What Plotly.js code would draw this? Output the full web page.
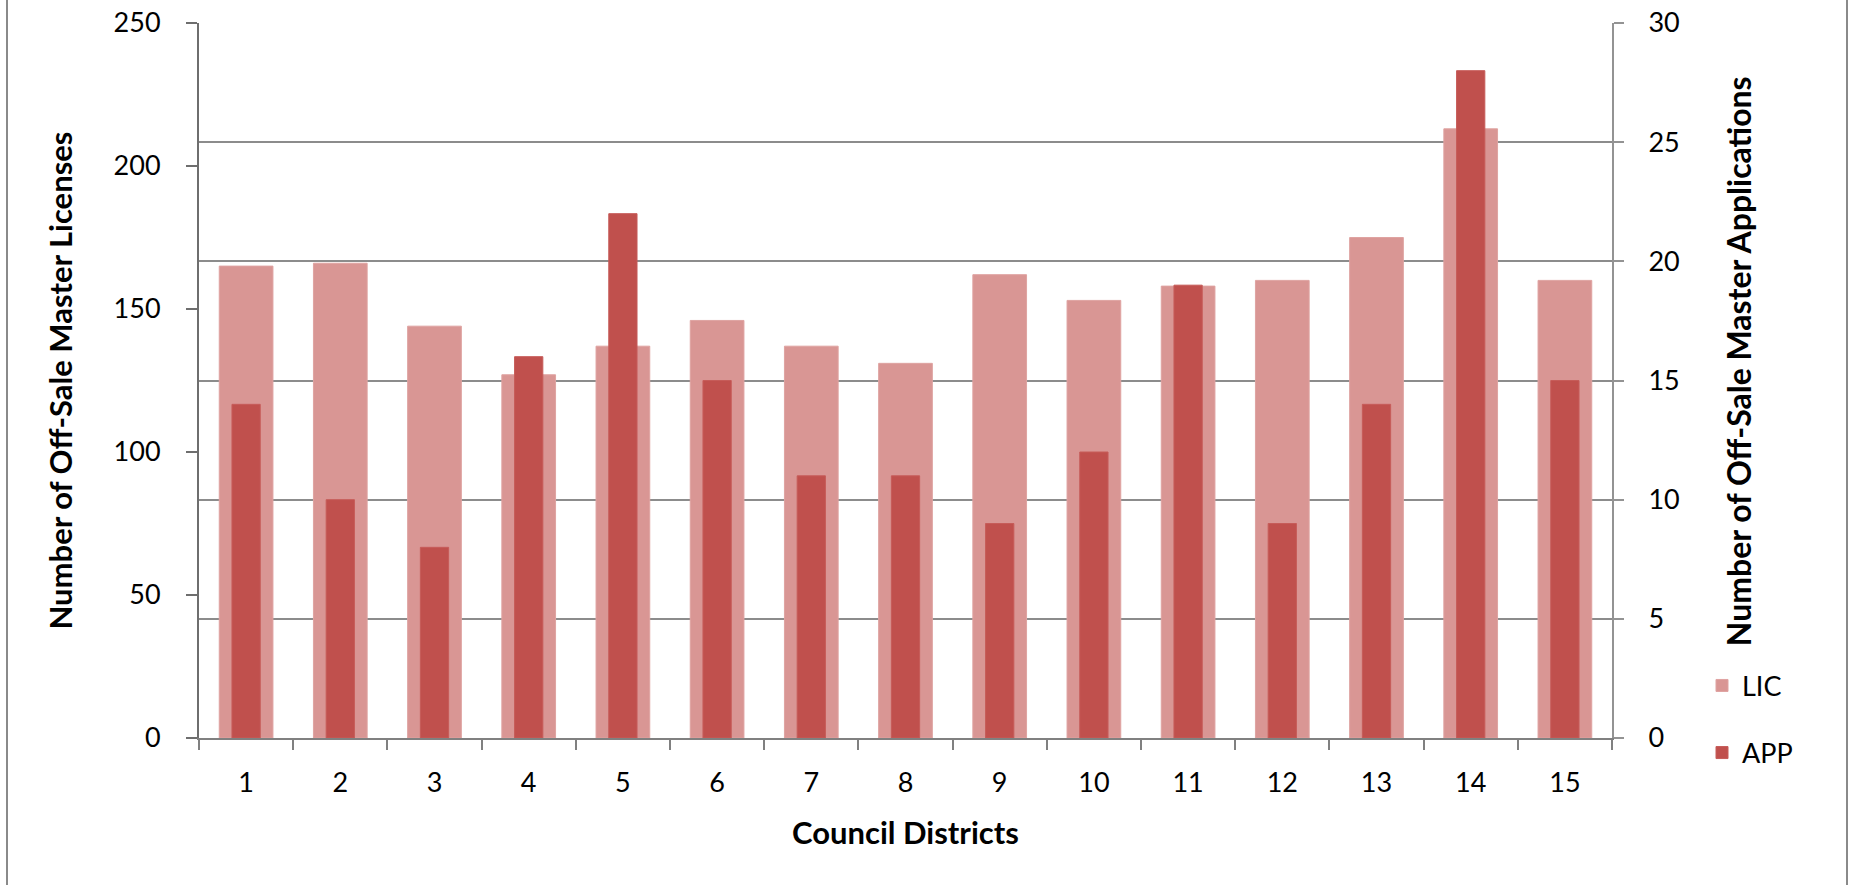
<!DOCTYPE html>
<html>
<head>
<meta charset="utf-8">
<script src="https://cdn.plot.ly/plotly-3.0.1.min.js"></script>
<style>
  html, body { margin: 0; padding: 0; background: #ffffff; }
  #chart { width: 1855px; height: 885px; }
</style>
</head>
<body>
<div id="chart"></div>
<script>
// Data
const districts = ["1","2","3","4","5","6","7","8","9","10","11","12","13","14","15"];
const licValues = [165, 166, 144, 127, 137, 146, 137, 131, 162, 153, 158, 160, 175, 213, 160];
const appValues = [14, 10, 8, 16, 22, 15, 11, 11, 9, 12, 19, 9, 14, 28, 15];
const licTicks = [0, 50, 100, 150, 200, 250];
const appTicks = [0, 5, 10, 15, 20, 25, 30];

const FONT = "Lato, 'Open Sans', sans-serif";

const traces = [
  {
    type: "bar",
    name: "LIC",
    x: districts,
    y: licValues,
    yaxis: "y",
    width: 0.57,
    legendgroup: "lic",
    marker: { color: "#D99694", line: { color: "#DFA3A1", width: 1 } },
    hoverinfo: "x+y+name"
  },
  {
    type: "bar",
    name: "APP",
    x: districts,
    y: appValues,
    yaxis: "y2",
    width: 0.3,
    legendgroup: "app",
    marker: { color: "#C0504D", line: { color: "#C65C59", width: 1 } },
    hoverinfo: "x+y+name"
  }
];

const layout = {
  width: 1855,
  height: 885,
  margin: { l: 199, r: 243, t: 23, b: 147 },
  paper_bgcolor: "#ffffff",
  plot_bgcolor: "#ffffff",
  font: { family: FONT, size: 27, color: "#000000" },
  barmode: "overlay",
  showlegend: true,
  legend: {
    x: 1.0637, xanchor: "left",
    y: 0.026, yanchor: "middle",
    traceorder: "grouped",
    tracegroupgap: 29,
    font: { family: FONT, size: 27, color: "#000000" },
    bgcolor: "rgba(0,0,0,0)"
  },
  xaxis: {
    type: "category",
    range: [-0.5, 14.5],
    tickson: "boundaries",
    ticks: "outside",
    ticklen: 10,
    tickwidth: 2,
    tickcolor: "#808080",
    showline: true,
    linecolor: "#808080",
    linewidth: 2,
    showgrid: false,
    zeroline: false,
    ticklabelstandoff: 20,
    tickfont: { family: FONT, size: 27, color: "#000000" },
    fixedrange: true
  },
  yaxis: {
    range: [0, 250],
    tickvals: licTicks,
    ticks: "outside",
    ticklen: 11,
    tickwidth: 2,
    tickcolor: "#6e6e6e",
    showline: true,
    linecolor: "#6e6e6e",
    linewidth: 2,
    showgrid: false,
    zeroline: false,
    ticklabelstandoff: 20,
    tickfont: { family: FONT, size: 27, color: "#000000" },
    fixedrange: true
  },
  yaxis2: {
    range: [0, 30],
    tickvals: appTicks,
    overlaying: "y",
    side: "right",
    ticks: "outside",
    ticklen: 10,
    tickwidth: 2,
    tickcolor: "#939393",
    showline: true,
    linecolor: "#939393",
    linewidth: 2,
    showgrid: true,
    gridcolor: "#8c8c8c",
    gridwidth: 2,
    zeroline: false,
    ticklabelstandoff: 19,
    tickfont: { family: FONT, size: 27, color: "#000000" },
    fixedrange: true
  },
  annotations: [
    {
      text: "<b>Council Districts</b>",
      xref: "paper", yref: "paper",
      x: 0.5, y: -0.1315, xanchor: "center", yanchor: "middle",
      showarrow: false,
      font: { family: FONT, size: 31, color: "#000000" }
    },
    {
      text: "<b>Number of Off-Sale Master Licenses</b>",
      xref: "paper", yref: "paper",
      x: (59 - 199) / 1413, y: 0.5, xanchor: "center", yanchor: "middle",
      textangle: -90,
      showarrow: false,
      font: { family: FONT, size: 31, color: "#000000" }
    },
    {
      text: "<b>Number of Off-Sale Master Applications</b>",
      xref: "paper", yref: "paper",
      x: (1738 - 199) / 1413, y: 0.527, xanchor: "center", yanchor: "middle",
      textangle: -90,
      showarrow: false,
      font: { family: FONT, size: 32, color: "#000000" }
    }
  ],
  shapes: [
    { type: "line", xref: "paper", yref: "paper",
      x0: (7 - 199) / 1413, x1: (7 - 199) / 1413, y0: -0.25, y1: 1.1,
      line: { color: "#8a8a8a", width: 2 } },
    { type: "line", xref: "paper", yref: "paper",
      x0: (1847 - 199) / 1413, x1: (1847 - 199) / 1413, y0: -0.25, y1: 1.1,
      line: { color: "#8a8a8a", width: 2 } }
  ]
};

Plotly.newPlot("chart", traces, layout, { displayModeBar: false, staticPlot: true });
</script>
</body>
</html>
